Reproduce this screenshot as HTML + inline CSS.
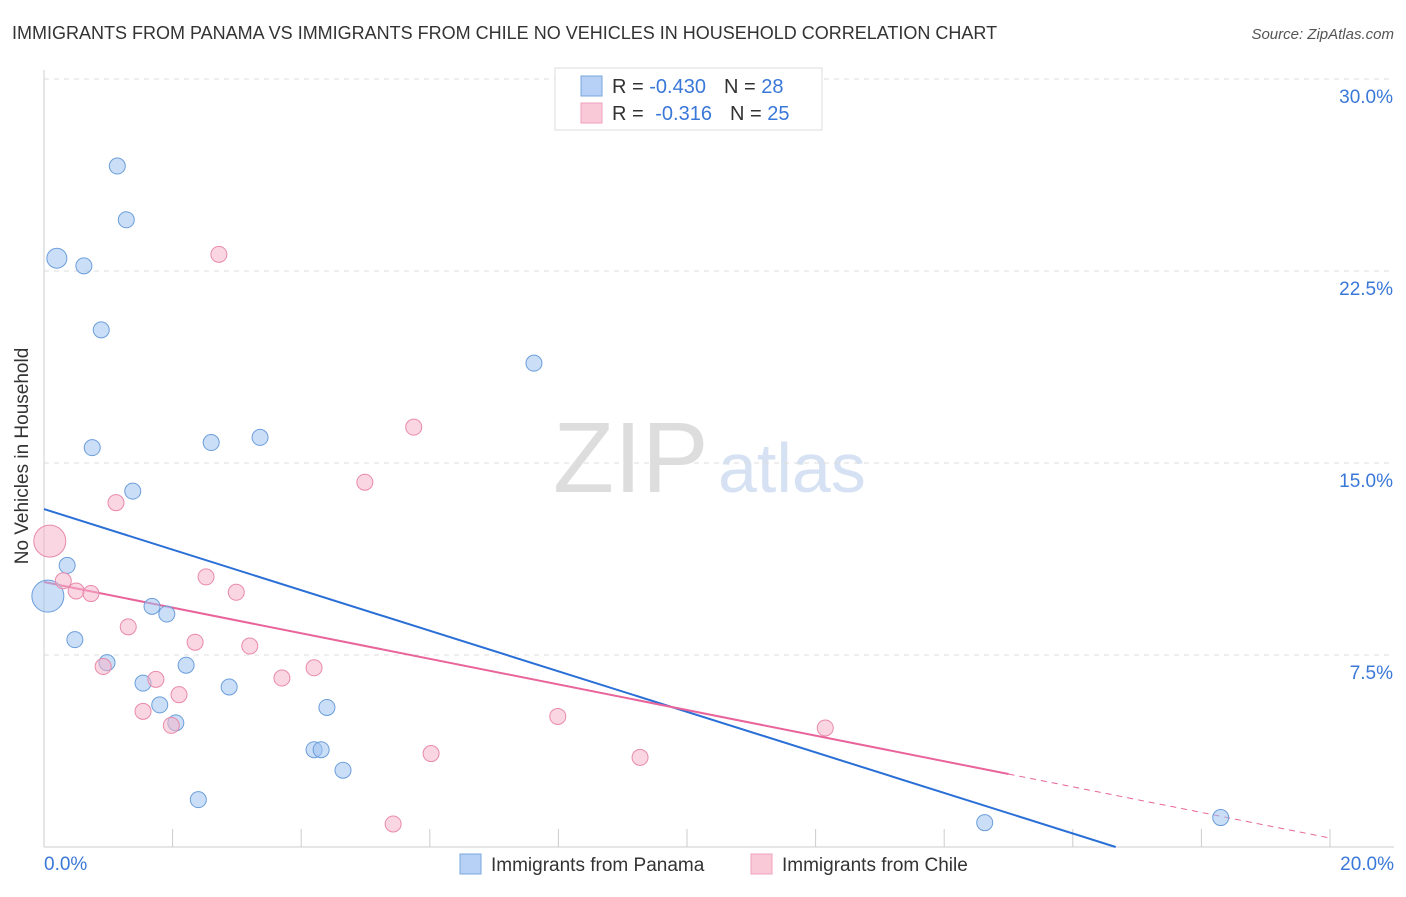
<!DOCTYPE html>
<html><head><meta charset="utf-8"><style>
body{margin:0;background:#fff;font-family:"Liberation Sans",sans-serif;}
svg text{font-family:"Liberation Sans",sans-serif;}
</style></head><body>
<svg id="c" width="1406" height="892">
<text x="12" y="39" font-size="18" fill="#333">IMMIGRANTS FROM PANAMA VS IMMIGRANTS FROM CHILE NO VEHICLES IN HOUSEHOLD CORRELATION CHART</text>
<text x="1394" y="39" font-size="15" fill="#555" font-style="italic" text-anchor="end">Source: ZipAtlas.com</text>
<text x="28" y="456" font-size="19" fill="#333" text-anchor="middle" transform="rotate(-90 28 456)">No Vehicles in Household</text>
<text x="553" y="492" font-size="100" fill="#ddd" font-family="Liberation Serif">ZIP</text>
<text x="718" y="492" font-size="70" fill="#d6e2f4">atlas</text>
<g id="grid"></g><g id="lines"></g><g id="pts"></g>
<g>
<rect x="555" y="68" width="267" height="62" fill="#fff" stroke="#ddd"/>
<rect x="581" y="76" width="21" height="20" fill="#b6d1f5" stroke="#7aa7e0"/>
<rect x="581" y="103" width="21" height="20" fill="#f9c9d8" stroke="#eea0bb"/>
<text x="612" y="93" font-size="20" fill="#333">R = <tspan fill="#3a78d8">-0.430</tspan><tspan dx="18">N = </tspan><tspan fill="#3a78d8">28</tspan></text>
<text x="612" y="120" font-size="20" fill="#333">R = <tspan dx="6" fill="#3a78d8">-0.316</tspan><tspan dx="18">N = </tspan><tspan fill="#3a78d8">25</tspan></text>
</g>
<g>
<rect x="460" y="854" width="21" height="20" fill="#b6d1f5" stroke="#7aa7e0"/>
<text x="491" y="871" font-size="19" fill="#333">Immigrants from Panama</text>
<rect x="751" y="854" width="21" height="20" fill="#f9c9d8" stroke="#eea0bb"/>
<text x="782" y="871" font-size="19" fill="#333">Immigrants from Chile</text>
</g>
</svg>
<script>
const yTicks=[7.5,15,22.5,30];
const yTickLabels=["7.5%","15.0%","22.5%","30.0%"];
const xTickLabels=["0.0%","20.0%"];
const panamaX=[1.14,1.28,0.20,0.62,0.89,7.62,0.75,2.60,3.36,1.38,0.36,0.06,1.68,1.91,0.48,0.98,2.21,1.54,2.88,1.80,2.05,4.40,4.20,4.31,4.65,2.40,14.63,18.30];
const panamaY=[26.6,24.5,23.0,22.7,20.2,18.9,15.6,15.8,16.0,13.9,11.0,9.8,9.4,9.1,8.1,7.2,7.1,6.4,6.25,5.55,4.85,5.45,3.8,3.8,3.0,1.85,0.95,1.15];
const panamaR=[8,8,10,8,8,8,8,8,8,8,8,16,8,8,8,8,8,8,8,8,8,8,8,8,8,8,8,8];
const chileX=[2.72,5.75,4.99,1.12,0.09,0.30,0.50,0.73,2.52,2.99,1.31,2.35,3.20,0.92,1.74,4.20,3.70,2.10,1.54,1.98,7.99,12.15,6.02,9.27,5.43];
const chileY=[23.15,16.4,14.25,13.45,11.95,10.4,10.0,9.9,10.55,9.95,8.6,8.0,7.85,7.05,6.55,7.0,6.6,5.95,5.3,4.75,5.1,4.65,3.65,3.5,0.9];
const chileR=[8,8,8,8,16,8,8,8,8,8,8,8,8,8,8,8,8,8,8,8,8,8,8,8,8];
const panamaTrend=[13.2,-0.792];
const chileTrend=[10.35,-0.5];
const X=v=>44+v*64.3, Y=v=>847-v*25.6;
const NS="http://www.w3.org/2000/svg";
function mk(p,t,a){const e=document.createElementNS(NS,t);for(const k in a)e.setAttribute(k,a[k]);document.getElementById(p).appendChild(e);return e;}
let e=mk('grid','line',{x1:44,y1:70,x2:44,y2:847,stroke:'#ccc'});

e=mk('grid','line',{x1:44,y1:847,x2:1394,y2:847,stroke:'#ccc'});

for(let i=0;i<=10;i++){e=mk('grid','line',{x1:X(i*2),y1:829,x2:X(i*2),y2:847,stroke:'#ccc'});
}
yTicks.forEach((v,i)=>{e=mk('grid','line',{x1:44,y1:Y(v),x2:1394,y2:Y(v),stroke:'#ddd','stroke-dasharray':'5,5'});

e=mk('grid','text',{x:1393,y:Y(v)+24,'font-size':19,fill:'#3a78d8','text-anchor':'end'});e.textContent=yTickLabels[i];
});
[[0,'start',44],[20,'end',1394]].forEach((a,i)=>{e=mk('grid','text',{x:a[2],y:870,'font-size':19,fill:'#3a78d8','text-anchor':a[1]});e.textContent=xTickLabels[i];
});
panamaX.forEach((x,i)=>{e=mk('pts','circle',{cx:X(x),cy:Y(panamaY[i]),r:panamaR[i],fill:'rgba(160,195,240,0.55)',stroke:'#6b9edb'});
});
chileX.forEach((x,i)=>{e=mk('pts','circle',{cx:X(x),cy:Y(chileY[i]),r:chileR[i],fill:'rgba(246,180,202,0.55)',stroke:'#e98aab'});
});
const bx=-panamaTrend[0]/panamaTrend[1];
e=mk('lines','line',{x1:X(0),y1:Y(panamaTrend[0]),x2:X(bx),y2:Y(0),stroke:'#2a6fd6','stroke-width':2});

e=mk('lines','line',{x1:X(0),y1:Y(chileTrend[0]),x2:X(15),y2:Y(chileTrend[0]+15*chileTrend[1]),stroke:'#e8649a','stroke-width':2});

e=mk('lines','line',{x1:X(15),y1:Y(chileTrend[0]+15*chileTrend[1]),x2:X(20),y2:Y(chileTrend[0]+20*chileTrend[1]),stroke:'#e8649a','stroke-width':1,'stroke-dasharray':'6,5'});

</script>
</body></html>
